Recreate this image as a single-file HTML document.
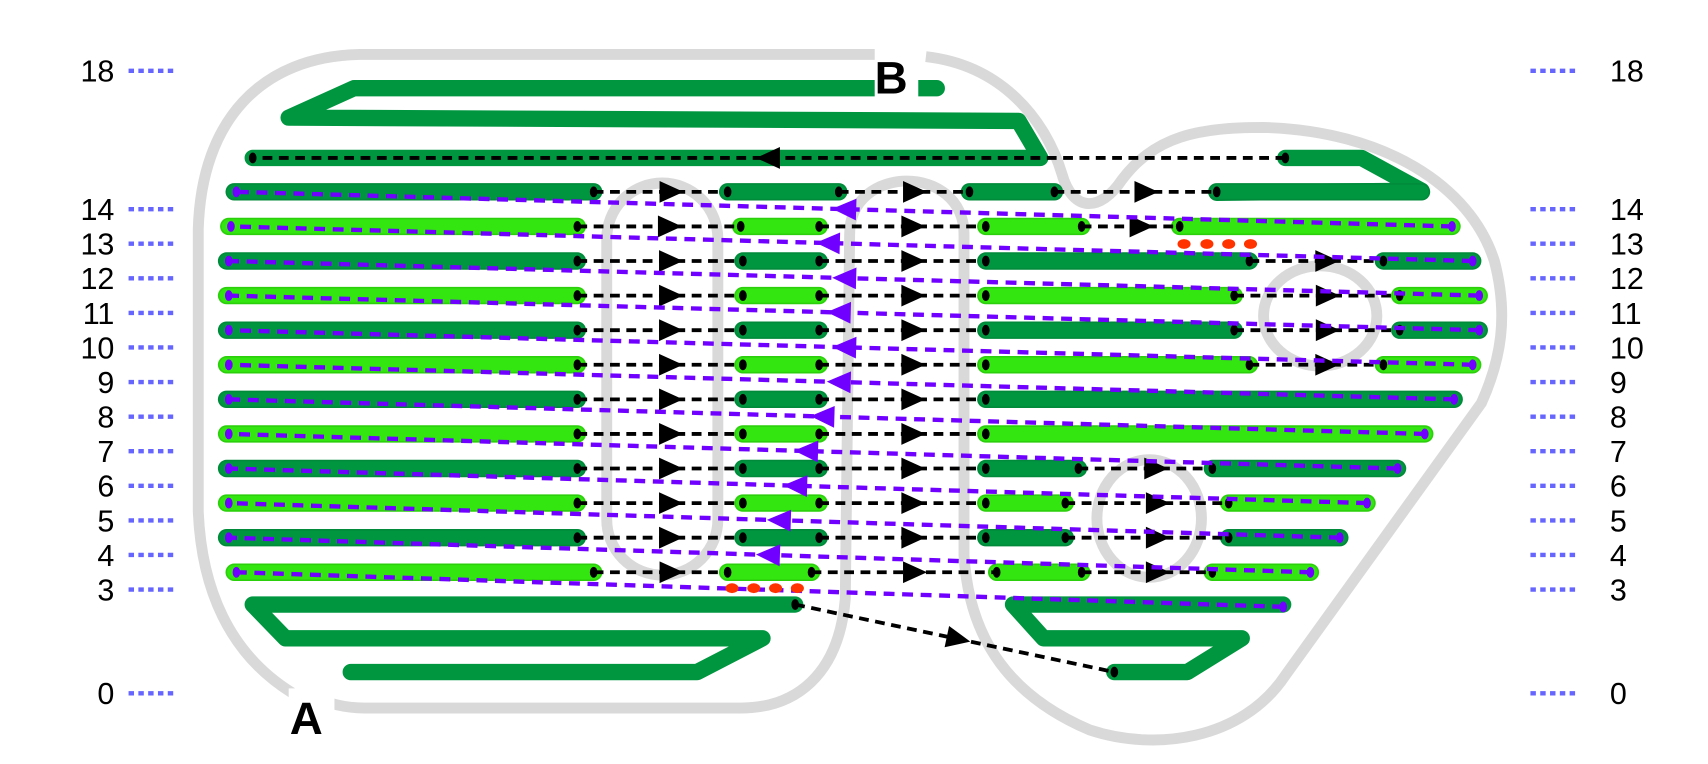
<!DOCTYPE html>
<html><head><meta charset="utf-8"><style>html,body{margin:0;padding:0;background:#fff;}svg{display:block}</style></head>
<body>
<svg id="s" width="1708" height="764" viewBox="0 0 1568 701.4" xmlns="http://www.w3.org/2000/svg" font-family="Liberation Sans, sans-serif">
<g fill="none" stroke="#d9d9d9" stroke-width="10">
<path d="M268,636 C210,600 185,540 182,470 L182,210 C185,110 240,52 330,50 L810,50 M850,52 C920,60 960,110 975,160 C985,195 1010,195 1030,165 C1060,125 1100,117 1160,117 C1270,120 1350,170 1372,240 C1385,290 1378,330 1360,370 L1180,620 C1140,680 1060,690 1000,670 C930,640 890,590 885,510 L885,215 C885,150 780,150 780,215 L776,550 C770,620 730,650 680,650 L335,650 C315,650 300,645 295,642"/>
<rect x="557" y="168" width="102" height="360" rx="51"/>
<ellipse cx="1212" cy="290" rx="52" ry="46"/>
<ellipse cx="1055" cy="476" rx="48" ry="54"/>
</g>
<g id="tracks"></g>
<g id="lines"></g>
<rect x="803" y="44" width="40" height="46" fill="#fff"/>
<text x="803" y="86" font-size="42" font-weight="bold">B</text>
<rect x="265" y="632" width="42" height="48" fill="#fff"/>
<text x="266" y="674" font-size="42" font-weight="bold">A</text>
<g id="labels" font-size="28"></g>
</svg>
<script>
const NS="http://www.w3.org/2000/svg";
function el(p,t,a){const e=document.createElementNS(NS,t);for(const k in a)e.setAttribute(k,a[k]);p.appendChild(e);return e;}
const T=document.getElementById('tracks'),L=document.getElementById('lines'),LB=document.getElementById('labels');
const DG="#009640",LG="#33e60f";
function Y(l){return 65+(18-l)*31.75;}
[18,14,13,12,11,10,9,8,7,6,5,4,3,0].forEach(n=>{const y=Y(n);
 el(LB,'text',{x:105,y:y+10,'text-anchor':'end'}).textContent=n;
 el(LB,'text',{x:1478,y:y+10}).textContent=n;
 el(LB,'line',{x1:118,y1:y,x2:160,y2:y,stroke:'#6666ff','stroke-width':4,'stroke-dasharray':'5,4'});
 el(LB,'line',{x1:1405,y1:y,x2:1448,y2:y,stroke:'#6666ff','stroke-width':4,'stroke-dasharray':'5,4'});
});
function poly(pts,c){el(T,'polyline',{points:pts.map(p=>p.join(',')).join(' '),fill:'none',stroke:c,'stroke-width':15,'stroke-linecap':'round','stroke-linejoin':'round'});}
function seg(x1,x2,y,c){el(T,'line',{x1,y1:y,x2,y2:y,stroke:c==DG?'#008a3a':'#2ccf0c','stroke-width':16,'stroke-linecap':'round'});el(T,'line',{x1,y1:y,x2,y2:y,stroke:c,'stroke-width':13,'stroke-linecap':'round'});}
poly([[860,81],[325,81],[265,108],[935,111],[955,145],[232,145]],DG);
poly([[1180,145],[1250,145],[1305,175],[1117,177]],DG);
poly([[730,555],[232,555],[262,586],[700,586],[640,617],[322,617]],DG);
poly([[1178,555],[930,555],[958,586],[1140,586],[1090,617],[1023,617]],DG);
const rows=[
[14.5,DG,[[215,545],[668,770],[890,968],[1117,1305]]],
[13.5,LG,[[210,530],[680,752],[905,993],[1083,1333]]],
[12.5,DG,[[208,530],[682,752],[905,1147],[1270,1352]]],
[11.5,LG,[[208,530],[682,752],[905,1133],[1285,1358]]],
[10.5,DG,[[208,530],[682,752],[905,1133],[1285,1358]]],
[9.5,LG,[[208,530],[682,752],[905,1147],[1270,1352]]],
[8.5,DG,[[208,530],[682,752],[905,1335]]],
[7.5,LG,[[208,530],[682,752],[905,1308]]],
[6.5,DG,[[208,530],[682,752],[905,990],[1113,1283]]],
[5.5,LG,[[208,530],[682,752],[905,978],[1128,1255]]],
[4.5,DG,[[208,530],[682,752],[905,978],[1128,1230]]],
[3.5,LG,[[215,545],[668,745],[915,993],[1113,1203]]]];
function dot(x,y){el(L,'ellipse',{cx:x,cy:y,rx:3.5,ry:5,fill:'#000'});}
function pdot(x,y){el(L,'ellipse',{cx:x,cy:y,rx:3.5,ry:5,fill:'#7000ff'});}
function arrow(x,y,dx,dy,c){const l=Math.hypot(dx,dy);dx/=l;dy/=l;const L1=22,W=10;
 el(L,'polygon',{points:`${x+dx*L1/2},${y+dy*L1/2} ${x-dx*L1/2-dy*W},${y-dy*L1/2+dx*W} ${x-dx*L1/2+dy*W},${y-dy*L1/2-dx*W}`,fill:c});}
function bl(x1,y1,x2,y2,ax){el(L,'line',{x1,y1,x2,y2,stroke:'#000','stroke-width':3.5,'stroke-dasharray':'9,6'});dot(x1,y1);dot(x2,y2);
 const t=(ax-x1)/(x2-x1);arrow(ax,y1+(y2-y1)*t,x2-x1,y2-y1,'#000');}
rows.forEach(r=>{r[2].forEach(s=>seg(s[0],s[1],Y(r[0]),r[1]));});
rows.forEach(r=>{const y=Y(r[0]),s=r[2];for(let i=0;i<s.length-1;i++){const a=s[i][1],b=s[i+1][0];bl(a,y,b,y,(a+b)/2+10);}});
bl(1180,145,232,145,705);
bl(730,555,1023,617,880);
const pa=[775,760,775,770,775,770,755,740,730,715,705,null];
for(let i=0;i<rows.length;i++){
 const top=rows[i], bot=i+1<rows.length?rows[i+1]:[2.5,DG,[[230,1178]]];
 const x1=bot[2][bot[2].length-1][1], y1=Y(bot[0]), x2=top[2][0][0]+2, y2=Y(top[0]);
 el(L,'line',{x1,y1,x2,y2,stroke:'#7000ff','stroke-width':4,'stroke-dasharray':'10,7'});
 pdot(x1,y1);pdot(x2,y2);
 if(pa[i]){const t=(pa[i]-x1)/(x2-x1);arrow(pa[i],y1+(y2-y1)*t,x2-x1,y2-y1,'#7000ff');}
}
[[1087,224],[1108,224],[1128,224],[1148,224],[672,540],[692,540],[712,540],[732,540]].forEach(p=>el(L,'ellipse',{cx:p[0],cy:p[1],rx:6,ry:4.5,fill:'#ff3300'}));
</script>
</body></html>
